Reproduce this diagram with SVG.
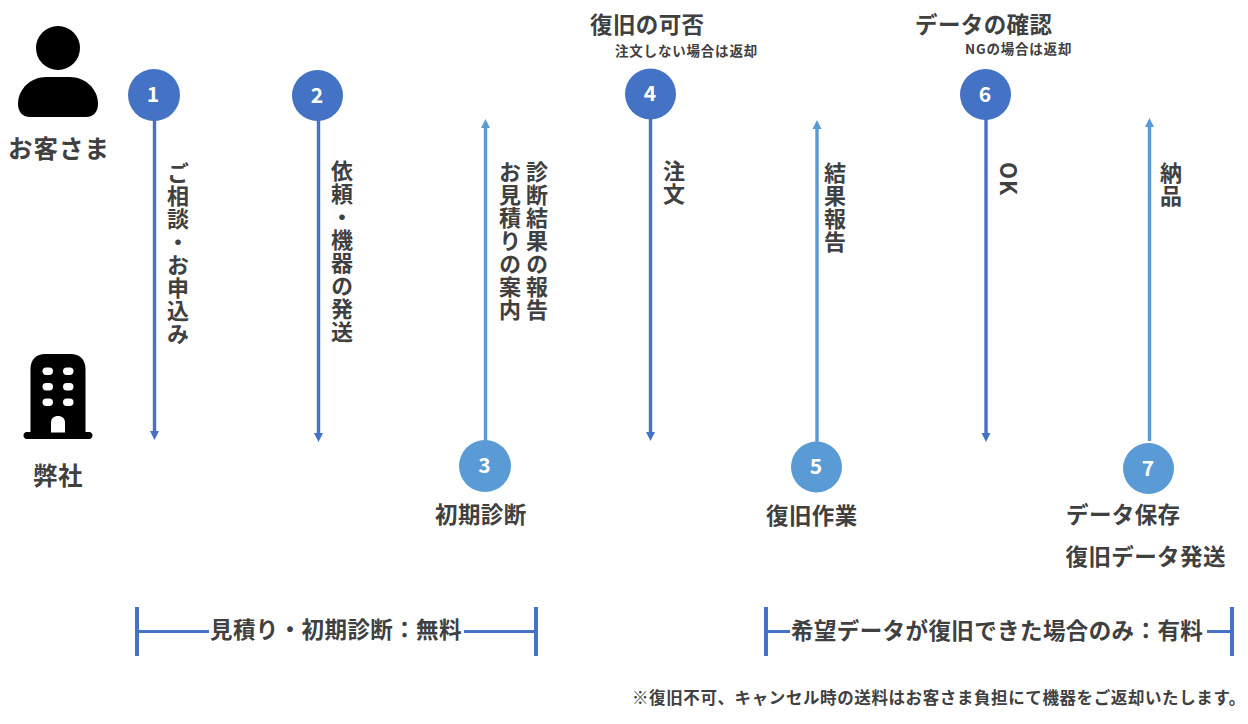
<svg xmlns="http://www.w3.org/2000/svg" width="1248" height="724" viewBox="0 0 1248 724">
<style>
text{font-family:"Noto Sans CJK JP","Noto Sans",sans-serif;fill:#404040;font-weight:700}
.l{font-size:22.500px;letter-spacing:.4px}
.a{font-size:24.500px;letter-spacing:.5px}
.c{letter-spacing:1px}
.s{font-size:13.500px;letter-spacing:.8px}
.n{font-size:16.500px;letter-spacing:.6px}
.v{font-size:22px;letter-spacing:1px;writing-mode:vertical-rl}
.num{font-size:21px;fill:#fff;text-anchor:middle}
.d{stroke:#4472c4;stroke-width:3.400;fill:none}
.u{stroke:#5b9bd5;stroke-width:3.400;fill:none}
.b{stroke:#4472c4;stroke-width:4;fill:none}
.h{stroke:#4472c4;stroke-width:3;fill:none}
.cd{fill:#4472c4}
.cu{fill:#5b9bd5}
</style>
<defs>
<marker id="ad" markerUnits="userSpaceOnUse" markerWidth="10" markerHeight="10" refX="3" refY="5" orient="auto"><path d="M0 0.500L9 5L0 9.500Z" fill="#4472c4"/></marker>
<marker id="au" markerUnits="userSpaceOnUse" markerWidth="10" markerHeight="10" refX="3" refY="5" orient="auto"><path d="M0 0.500L9 5L0 9.500Z" fill="#5b9bd5"/></marker>
</defs>
<rect width="1248" height="724" fill="#fff"/>
<g id="connectors">
<path class="d" d="M154.500 118V434" marker-end="url(#ad)"/>
<path class="d" d="M318.500 119V436" marker-end="url(#ad)"/>
<path class="u" d="M485.500 443V125" marker-end="url(#au)"/>
<path class="d" d="M650.500 118V435" marker-end="url(#ad)"/>
<path class="u" d="M817 442V126" marker-end="url(#au)"/>
<path class="d" d="M986 118V436" marker-end="url(#ad)"/>
<path class="u" d="M1149.500 441V124" marker-end="url(#au)"/>
</g>
<g id="customer">
<circle cx="58" cy="48" r="22" fill="#000"/>
<path d="M18 104C18 88 32 77 46 77H70C84 77 98 88 98 104C98 111 94 117 86 117H30C22 117 18 111 18 104Z" fill="#000"/>
<text class="a c" x="8" y="158">お客さま</text>
</g>
<g id="company">
<path d="M30.500 432V369C30.500 359 37 354 45 354H71C79 354 85.500 359 85.500 369V432H89C91.500 432 92.500 434 92.500 435.500C92.500 437 91.500 439 89 439H27C24.500 439 23.500 437 23.500 435.500C23.500 434 24.500 432 27 432Z" fill="#000"/>
<g fill="#fff">
<rect x="42.500" y="367.500" width="10.500" height="7.500" rx="3.700"/><rect x="63" y="367.500" width="10.500" height="7.500" rx="3.700"/>
<rect x="42.500" y="383" width="10.500" height="7.500" rx="3.700"/><rect x="63" y="383" width="10.500" height="7.500" rx="3.700"/>
<rect x="42.500" y="398.500" width="10.500" height="7.500" rx="3.700"/><rect x="63" y="398.500" width="10.500" height="7.500" rx="3.700"/>
<path d="M51 432.500V423C51 418 54 416 58 416C62 416 65 418 65 423V432.500Z"/>
</g>
<text class="a" x="33" y="485">弊社</text>
</g>
<g id="step1"><circle class="cd" cx="154" cy="95" r="26"/><text class="num" x="153" y="102">1</text><text class="v" x="178" y="162">ご相談・お申込み</text></g>
<g id="step2"><circle class="cd" cx="317.500" cy="95.500" r="25.500"/><text class="num" x="317" y="102.500">2</text><text class="v" x="342" y="160">依頼・機器の発送</text></g>
<g id="step3"><circle class="cu" cx="485" cy="466" r="26"/><text class="num" x="484.500" y="473">3</text><text class="l" x="435" y="523">初期診断</text><text class="v" x="537" y="161">診断結果の報告</text><text class="v" x="510" y="161">お見積りの案内</text></g>
<g id="step4"><circle class="cd" cx="650.500" cy="94" r="25.500"/><text class="num" x="650" y="101">4</text><text class="l" x="590" y="33">復旧の可否</text><text class="s" x="615" y="56">注文しない場合は返却</text><text class="v" x="674" y="160">注文</text></g>
<g id="step5"><circle class="cu" cx="816.500" cy="467" r="25.500"/><text class="num" x="816" y="473.500">5</text><text class="l" x="766" y="524">復旧作業</text><text class="v" x="835" y="162">結果報告</text></g>
<g id="step6"><circle class="cd" cx="985.500" cy="94.500" r="25.500"/><text class="num" x="985" y="101.500">6</text><text class="l" x="915" y="33">データの確認</text><text class="s" x="965" y="54">NGの場合は返却</text><text class="v" x="1010" y="162">OK</text></g>
<g id="step7"><circle class="cu" cx="1148.500" cy="468.500" r="25.500"/><text class="num" x="1148" y="475.500">7</text><text class="l" x="1066" y="523">データ保存</text><text class="l" x="1065.500" y="565">復旧データ発送</text><text class="v" x="1171" y="162">納品</text></g>
<g id="free">
<path class="b" d="M137 607V656M536 607V656"/><path class="h" d="M137 631.500H209M464 631.500H536"/>
<text class="l" x="210" y="638">見積り・初期診断：無料</text>
</g>
<g id="paid">
<path class="b" d="M766 607V656M1232 607V656"/><path class="h" d="M766 631.500H790M1207 631.500H1232"/>
<text class="l" x="791" y="639">希望データが復旧できた場合のみ：有料</text>
</g>
<g id="note"><text class="n" x="632" y="704">※復旧不可、キャンセル時の送料はお客さま負担にて機器をご返却いたします。</text></g>
</svg>
